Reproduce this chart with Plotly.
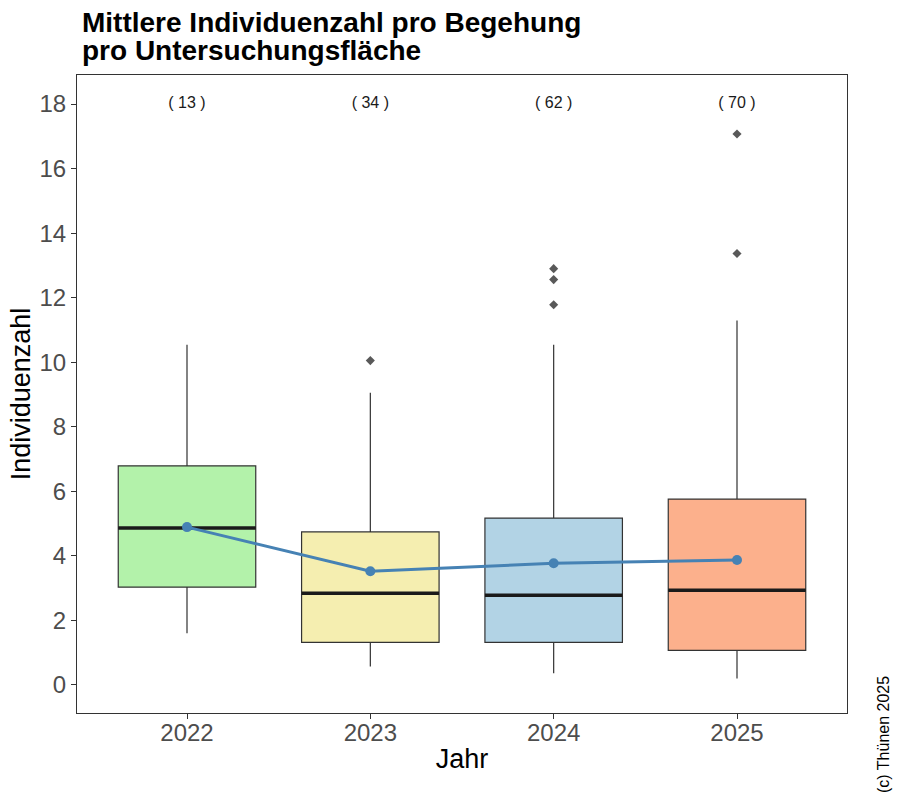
import plotly.graph_objects as go

years = ["2022", "2023", "2024", "2025"]
counts = [13, 34, 62, 70]
q1 = [3.03, 1.32, 1.32, 1.07]
median = [4.86, 2.84, 2.78, 2.93]
q3 = [6.79, 4.74, 5.17, 5.76]
lower_whisker = [1.60, 0.57, 0.36, 0.20]
upper_whisker = [10.54, 9.05, 10.54, 11.29]
means = [4.89, 3.52, 3.77, 3.87]
outlier_year = ["2023", "2024", "2024", "2024", "2025", "2025"]
outlier_val = [10.05, 12.90, 12.56, 11.78, 17.07, 13.37]
fill_colors = ["#b3f2aa", "#f5eeb0", "#b2d3e5", "#fcb08c"]

BOX_W = 0.75
xpos = list(range(len(years)))
idx = {y: i for i, y in enumerate(years)}

fig = go.Figure()

for i, yr in enumerate(years):
    fig.add_trace(go.Box(
        x=[xpos[i]], q1=[q1[i]], median=[median[i]], q3=[q3[i]],
        lowerfence=[lower_whisker[i]], upperfence=[upper_whisker[i]],
        width=BOX_W, whiskerwidth=0, fillcolor=fill_colors[i],
        line=dict(color="#333333", width=1.2), boxpoints=False,
        hoverinfo="skip", showlegend=False,
    ))
    fig.add_trace(go.Scatter(
        x=[xpos[i] - BOX_W / 2, xpos[i] + BOX_W / 2], y=[median[i], median[i]],
        mode="lines", line=dict(color="#1a1a1a", width=3.5),
        showlegend=False, hoverinfo="skip",
    ))

fig.add_trace(go.Scatter(
    x=[idx[y] for y in outlier_year], y=outlier_val, mode="markers",
    marker=dict(symbol="diamond", size=7, color="#595959"),
    showlegend=False, hoverinfo="skip",
))

fig.add_trace(go.Scatter(
    x=xpos, y=means, mode="lines+markers",
    line=dict(color="#4682b4", width=3),
    marker=dict(symbol="circle", size=10, color="#4682b4"),
    showlegend=False,
))

fig.add_trace(go.Scatter(
    x=xpos, y=[18] * len(years), mode="text",
    text=[f"( {c} )" for c in counts],
    textfont=dict(size=16, color="#1a1a1a"),
    showlegend=False, hoverinfo="skip",
))

fig.update_layout(
    width=900, height=802,
    margin=dict(l=77, r=53, t=75, b=89),
    paper_bgcolor="white", plot_bgcolor="white",
    font=dict(family="Liberation Sans, Arial, sans-serif"),
    xaxis=dict(
        range=[-0.6, 3.6], tickmode="array", tickvals=xpos, ticktext=years,
        showgrid=False, zeroline=False, showline=True, linecolor="#333333",
        linewidth=1.2, mirror=True, ticks="outside", ticklen=5, automargin=False,
        ticklabelstandoff=-7,
        tickcolor="#333333", tickfont=dict(size=24, color="#4d4d4d"),
        title=dict(text="Jahr", font=dict(size=27, color="black"), standoff=4),
    ),
    yaxis=dict(
        range=[-0.87, 18.9], tickmode="array", tickvals=list(range(0, 19, 2)),
        showgrid=False, zeroline=False, showline=True, linecolor="#333333",
        linewidth=1.2, mirror=True, ticks="outside", ticklen=5, automargin=False,
        tickcolor="#333333", tickfont=dict(size=24, color="#4d4d4d"),
        title=dict(text="Individuenzahl", font=dict(size=27, color="black"), standoff=0),
    ),
    annotations=[
        dict(text="<b>Mittlere Individuenzahl pro Begehung</b>", xref="paper", yref="paper",
             x=(80 - 77) / 770, y=1 + (75 - 22) / 638, xanchor="left", yanchor="middle",
             showarrow=False, font=dict(size=28, color="black")),
        dict(text="<b>pro Untersuchungsfläche</b>", xref="paper", yref="paper",
             x=(80 - 77) / 770, y=1 + (75 - 50) / 638, xanchor="left", yanchor="middle",
             showarrow=False, font=dict(size=28, color="black")),
        dict(text="(c) Thünen 2025", xref="paper", yref="paper",
             x=1 + (883 - 847) / 770, y=-(735 - 713) / 638, xanchor="center", yanchor="middle",
             textangle=-90, showarrow=False, font=dict(size=16, color="black")),
    ],
)

fig.write_html("out.html", config={"displayModeBar": False},
               post_script="document.body.style.margin='0';")
